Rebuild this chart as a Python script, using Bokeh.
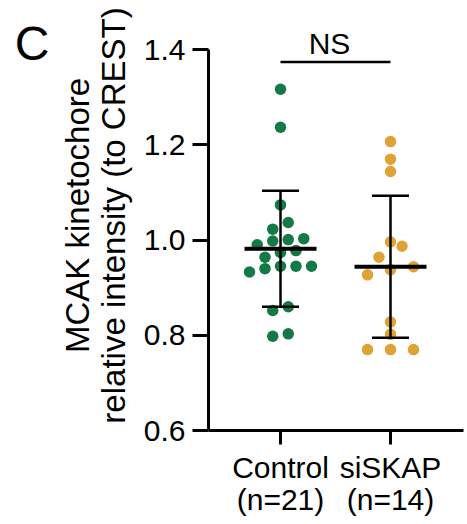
import numpy as np
from bokeh.plotting import figure
from bokeh.models import (ColumnDataSource, FixedTicker, Label, Range1d, Whisker,
                          TeeHead, PrintfTickFormatter, LinearAxis)
from bokeh.embed import file_html
from bokeh.resources import INLINE

# ---------------- data ----------------
groups = ["Control", "siSKAP"]
control = [1.317, 1.237, 1.074, 1.037, 1.023, 1.003, 1.001, 0.998, 0.990, 0.978,
           0.974, 0.964, 0.945, 0.945, 0.945, 0.940, 0.933, 0.860, 0.852, 0.803, 0.798]
siskap = [1.207, 1.170, 1.144, 0.996, 0.987, 0.964, 0.944, 0.938, 0.927, 0.828,
          0.802, 0.770, 0.770, 0.770]
y_ticks = [0.6, 0.8, 1.0, 1.2, 1.4]
y_title = "MCAK kinetochore\nrelative intensity (to CREST)"
sig_text = "NS"
panel_letter = "C"
colors = ["#137A46", "#DFA234"]

# ---------------- layout constants ----------------
FONT = "Liberation Sans"
FS = "30px"
W, H = 467, 524
LEFT, RIGHT, BOTTOM = 208, 4, 94
PX_X = 110.0      # pixels per category step
PX_Y = 476.0      # pixels per y unit
frame_w = W - LEFT - RIGHT
frame_h = H - BOTTOM
x_start = 1 - 72 / PX_X
y_end = y_ticks[0] + frame_h / PX_Y
x_range = Range1d(x_start, x_start + frame_w / PX_X)
y_range = Range1d(y_ticks[0], y_end)


def swarm_offsets(vals, row_h=0.025, gap_px=23.0, max_span_px=62.0):
    vals = np.asarray(vals)
    order = np.argsort(vals, kind="stable")
    rows, cur, start = [], [], None
    for i in order:
        if cur and vals[i] - start < row_h:
            cur.append(i)
        else:
            if cur:
                rows.append(cur)
            cur, start = [i], vals[i]
    rows.append(cur)
    nmax = max(len(r) for r in rows)
    step = min(gap_px, max_span_px / max(nmax - 1, 1))
    off = np.zeros(len(vals))
    for r in rows:
        n = len(r)
        for j, i in enumerate(r):
            off[i] = (j - (n - 1) / 2) * step / PX_X
    return off


p = figure(width=W, height=H, x_range=x_range, y_range=y_range,
           output_backend="svg", toolbar_location=None,
           min_border_left=LEFT, min_border_bottom=BOTTOM,
           min_border_top=0, min_border_right=RIGHT)
p.outline_line_color = None
p.grid.visible = False
p.background_fill_color = "white"
p.border_fill_color = "white"

positions = [1, 2]
means, sds = [], []
for pos, vals, col in zip(positions, [control, siskap], colors):
    v = np.asarray(vals)
    xs = pos + swarm_offsets(v)
    src = ColumnDataSource(dict(x=xs, y=v))
    p.scatter("x", "y", source=src, size=11.5, fill_color=col, line_color=None)
    means.append(v.mean())
    sds.append(v.std(ddof=1))

means = np.array(means)
sds = np.array(sds)
stat_src = ColumnDataSource(dict(base=positions, mean=means,
                                 upper=means + sds, lower=means - sds))
wh = Whisker(base="base", upper="upper", lower="lower", source=stat_src,
             dimension="height", line_width=2.5, line_color="black", level="overlay",
             upper_head=TeeHead(size=37, line_width=2.5, line_color="black"),
             lower_head=TeeHead(size=37, line_width=2.5, line_color="black"))
p.add_layout(wh)
p.scatter("base", "mean", source=stat_src, marker="dash", size=72,
          line_width=4, line_color="black", level="overlay")

# significance bracket
all_vals = control + siskap
bracket_y = max(all_vals) + 0.057
p.segment(x0=[positions[0]], y0=[bracket_y], x1=[positions[1]], y1=[bracket_y],
          line_width=2.5, line_color="black")
p.add_layout(Label(x=sum(positions) / 2, y=bracket_y + 19 / PX_Y, x_offset=-6,
                   text=sig_text, text_align="center", text_baseline="alphabetic",
                   text_font=FONT, text_font_size=FS, text_color="black"))

# x axis
xa = p.xaxis[0]
xa.ticker = FixedTicker(ticks=positions)
xa.major_label_overrides = {pos: f"{g}\n(n={len(v)})"
                            for pos, g, v in zip(positions, groups, [control, siskap])}
xa.axis_line_width = 3
xa.axis_line_color = "black"
xa.major_tick_line_width = 3
xa.major_tick_line_color = "black"
xa.major_tick_in = 0
xa.major_tick_out = 14
xa.minor_tick_line_color = None
xa.major_label_standoff = 6
xa.major_label_text_font = FONT
xa.major_label_text_font_size = FS
xa.major_label_text_color = "black"
xa.major_label_text_line_height = 0.97

# y axis
ya = p.yaxis[0]
ya.ticker = FixedTicker(ticks=y_ticks)
ya.formatter = PrintfTickFormatter(format="%.1f")
ya.bounds = (y_ticks[0], y_ticks[-1])
ya.axis_line_width = 3
ya.axis_line_color = "black"
ya.major_tick_line_width = 3
ya.major_tick_line_color = "black"
ya.major_tick_in = 0
ya.major_tick_out = 16
ya.minor_tick_line_color = None
ya.major_label_standoff = 7
ya.major_label_text_font = FONT
ya.major_label_text_font_size = FS
ya.major_label_text_color = "black"
ya.axis_label = y_title
ya.axis_label_text_font = FONT
ya.axis_label_text_font_size = "33px"
ya.axis_label_text_font_style = "normal"
ya.axis_label_text_color = "black"
ya.axis_label_standoff = 9
ya.axis_label_text_line_height = 0.97

# panel letter: a bare outer axis whose single tick label is the letter;
# a blank, tiny axis title pads it away from the canvas edge
letter_at = y_end - 10 / PX_Y
la = LinearAxis(ticker=FixedTicker(ticks=[letter_at]),
                major_label_overrides={letter_at: panel_letter},
                axis_line_color=None, major_tick_line_color=None,
                minor_tick_line_color=None, major_tick_out=0, major_tick_in=0,
                major_label_standoff=6, major_label_text_font=FONT,
                major_label_text_font_size="48px", major_label_text_color="black",
                axis_label=" ", axis_label_text_font_size="7px",
                axis_label_standoff=0)
p.add_layout(la, "left")

open("out.html", "w").write(file_html(p, INLINE))
